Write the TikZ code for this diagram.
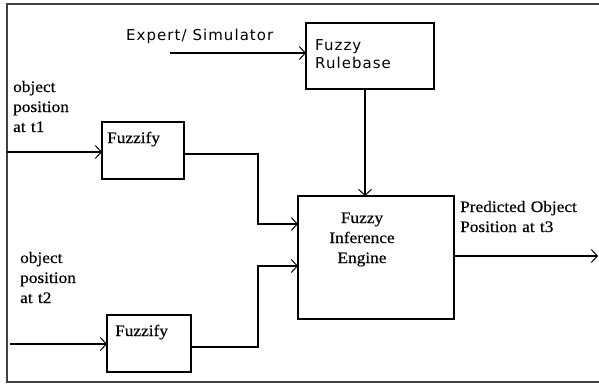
\documentclass[tikz,border=0pt]{standalone}
\usepackage{fontspec}
\setmainfont[FakeStretch=1.08,FakeBold=0.4]{Liberation Serif}
\newfontfamily\sansf[LetterSpace=7]{DejaVu Sans}
\usetikzlibrary{arrows.meta}
\begin{document}
\begin{tikzpicture}[x=1pt,y=-1pt,
  box/.style={draw, line width=1.3pt, inner sep=0pt, outer sep=0pt, anchor=north west},
  conn/.style={line width=1.1pt},
  arr/.style={conn, -{Straight Barb[length=6pt,width=13pt,line width=1pt]}},
  serif/.style={font=\fontsize{16}{20}\selectfont, inner sep=0pt},
  sans/.style={font=\sansf\fontsize{15}{18}\selectfont, inner sep=0pt},
  ]
\useasboundingbox (0,0) rectangle (599,383);
% frame
\draw[line width=1.6pt, black!75] (599,4) -- (7,4) -- (7,382) -- (599,382);
% boxes
\node[box, minimum width=128pt, minimum height=66pt] (rb) at (306,23) {};
\node[box, minimum width=156pt, minimum height=123pt] (eng) at (298,196) {};
\node[box, minimum width=82pt, minimum height=57pt] (f1) at (102,122) {};
\node[box, minimum width=84pt, minimum height=57pt] (f2) at (107,315) {};
% texts
\node[sans, anchor=base west] (exptxt) at (126,40) {Expert/ Simulator};
\node[sans, anchor=base west, text width=110pt, align=left] (rbtxt) at (315,50) {Fuzzy\\Rulebase};
\node[serif, anchor=base, text width=110pt, align=center] (engtxt) at (362,223) {Fuzzy\\Inference\\Engine};
\node[serif, anchor=base west] (f1txt) at (107,143) {Fuzzify};
\node[serif, anchor=base west] (f2txt) at (115,336) {Fuzzify};
\node[serif, anchor=base west, text width=80pt, align=left] (l1) at (13,92) {object\\position\\at t1};
\node[serif, anchor=base west, text width=80pt, align=left] (l2) at (20,263) {object\\position\\at t2};
\node[serif, anchor=base west, text width=130pt, align=left] (l3) at (460,212) {Predicted Object\\Position at t3};
% connector end points
\coordinate (exp) at (170,53);
\coordinate (in1) at (7,152);
\coordinate (in2) at (10,344);
\coordinate (rbx) at (365,89);
\coordinate (out) at (598,256);
% connectors
\draw[arr] (exp) -- (exp -| rb.west);
\draw[arr] (rbx) -- (rbx |- eng.north);
\draw[arr] (in1) -- (in1 -| f1.west);
\draw[arr] (in2) -- (in2 -| f2.west);
\draw[arr] (f1.east |- 0,154) -- (258,154) -- (258,224) -- (eng.west |- 0,224);
\draw[arr] (f2.east |- 0,347) -- (258,347) -- (258,266) -- (eng.west |- 0,266);
\draw[arr] (eng.east |- out) -- (out);
\end{tikzpicture}
\end{document}
